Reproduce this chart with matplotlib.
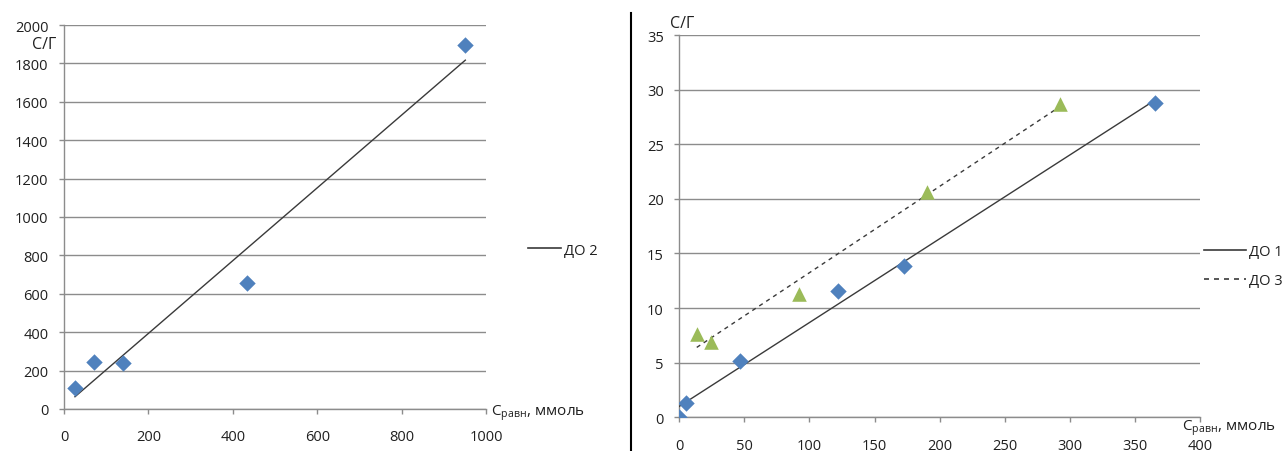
import numpy as np
import matplotlib
matplotlib.use("Agg")
import matplotlib.pyplot as plt
from matplotlib.lines import Line2D

plt.rcParams['font.family'] = ['Open Sans', 'DejaVu Sans']
plt.rcParams['font.size'] = 10.5

# ---- data (left chart: ДО 2) ----
do2_x = [26, 71, 140, 434, 951]
do2_y = [109, 245, 240, 656, 1897]

# ---- data (right chart: ДО 1, ДО 3) ----
do1_x = [0, 5.1, 46.9, 121.9, 172.9, 365.2]
do1_y = [0.0, 1.3, 5.2, 11.56, 13.85, 28.74]
do3_x = [13.4, 24.1, 92.2, 190.5, 292.5]
do3_y = [7.63, 6.86, 11.29, 20.65, 28.68]

left_xticks = [0, 200, 400, 600, 800, 1000]
left_yticks = list(range(0, 2001, 200))
right_xticks = list(range(0, 401, 50))
right_yticks = list(range(0, 36, 5))

blue = '#4F81BD'
green = '#9BBB59'
grid_c = '#8C8C8C'
text_c = '#202020'
line_c = '#3A3A3A'

W, H = 1285, 452
fig = plt.figure(figsize=(W / 100, H / 100), dpi=100)


def px_rect(x0, y0, x1, y1):
    return [x0 / W, 1 - y1 / H, (x1 - x0) / W, (y1 - y0) / H]


def style(ax, xt, yt):
    ax.set_xticks(xt)
    ax.set_yticks(yt)
    ax.set_xlim(xt[0], xt[-1])
    ax.set_ylim(yt[0], yt[-1])
    for s in ['top', 'right']:
        ax.spines[s].set_visible(False)
    for s in ['left', 'bottom']:
        ax.spines[s].set_color(grid_c)
        ax.spines[s].set_linewidth(1.0)
    ax.yaxis.grid(True, color=grid_c, linewidth=1.0)
    ax.xaxis.grid(False)
    ax.set_axisbelow(True)
    ax.tick_params(axis='x', direction='out', length=3.6, width=1, color=grid_c,
                   pad=11, labelcolor=text_c, labelsize=10.5)
    ax.tick_params(axis='y', direction='out', length=3.6, width=1, color=grid_c,
                   pad=7.5, labelcolor=text_c, labelsize=10.5)


def trend(ax, x, y, **kw):
    k, b = np.polyfit(x, y, 1)
    xs = np.array([min(x), max(x)])
    ax.plot(xs, k * xs + b, color=line_c, linewidth=1.0, zorder=3, **kw)


# ---- left chart ----
axL = fig.add_axes(px_rect(64, 26, 486, 410))
style(axL, left_xticks, left_yticks)
axL.scatter(do2_x, do2_y, marker='D', s=70, color=blue, zorder=4, linewidths=0)
trend(axL, do2_x, do2_y)
axL.legend(handles=[Line2D([], [], color=line_c, lw=1.2)], labels=['ДО 2'],
           loc='center left', bbox_to_anchor=(522 / W, 1 - 251 / H),
           bbox_transform=fig.transFigure, frameon=False, handlelength=2.3,
           handletextpad=0.2, fontsize=10.5, labelcolor=text_c, borderaxespad=0)

# ---- right chart ----
axR = fig.add_axes(px_rect(679.3, 36, 1200, 418.3))
style(axR, right_xticks, right_yticks)
axR.scatter(do1_x, do1_y, marker='D', s=70, color=blue, zorder=4, linewidths=0)
axR.scatter(do3_x, do3_y, marker='^', s=110, color=green, zorder=4, linewidths=0)
trend(axR, do1_x, do1_y)
trend(axR, do3_x, do3_y, linestyle=(0, (3, 3)))
axR.legend(handles=[Line2D([], [], color=line_c, lw=1.2),
                    Line2D([], [], color=line_c, lw=1.2, linestyle=(0, (3, 3)))],
           labels=['ДО 1', 'ДО 3'],
           loc='center left', bbox_to_anchor=(1198 / W, 1 - 267 / H),
           bbox_transform=fig.transFigure, frameon=False, handlelength=2.9,
           handletextpad=0.2, fontsize=10.5, labelcolor=text_c, borderaxespad=0,
           labelspacing=0.95)

# ---- axis captions ----
fig.text(44 / W, 1 - 45 / H, 'С/Г', ha='center', va='center', fontsize=11.5, color=text_c)
fig.text(682 / W, 1 - 24 / H, 'С/Г', ha='center', va='center', fontsize=11.5, color=text_c)
xlab = r'С$_{\mathregular{равн}}$, ммоль'
fig.text(491 / W, 1 - 413 / H, xlab, ha='left', va='center', fontsize=11, color=text_c)
fig.text(1182 / W, 1 - 428 / H, xlab, ha='left', va='center', fontsize=11, color=text_c)

# ---- separator ----
fig.add_artist(Line2D([631 / W, 631 / W], [0, 1 - 14 / H], transform=fig.transFigure,
                      color='black', linewidth=1.5))

fig.savefig('out.png', dpi=100)
